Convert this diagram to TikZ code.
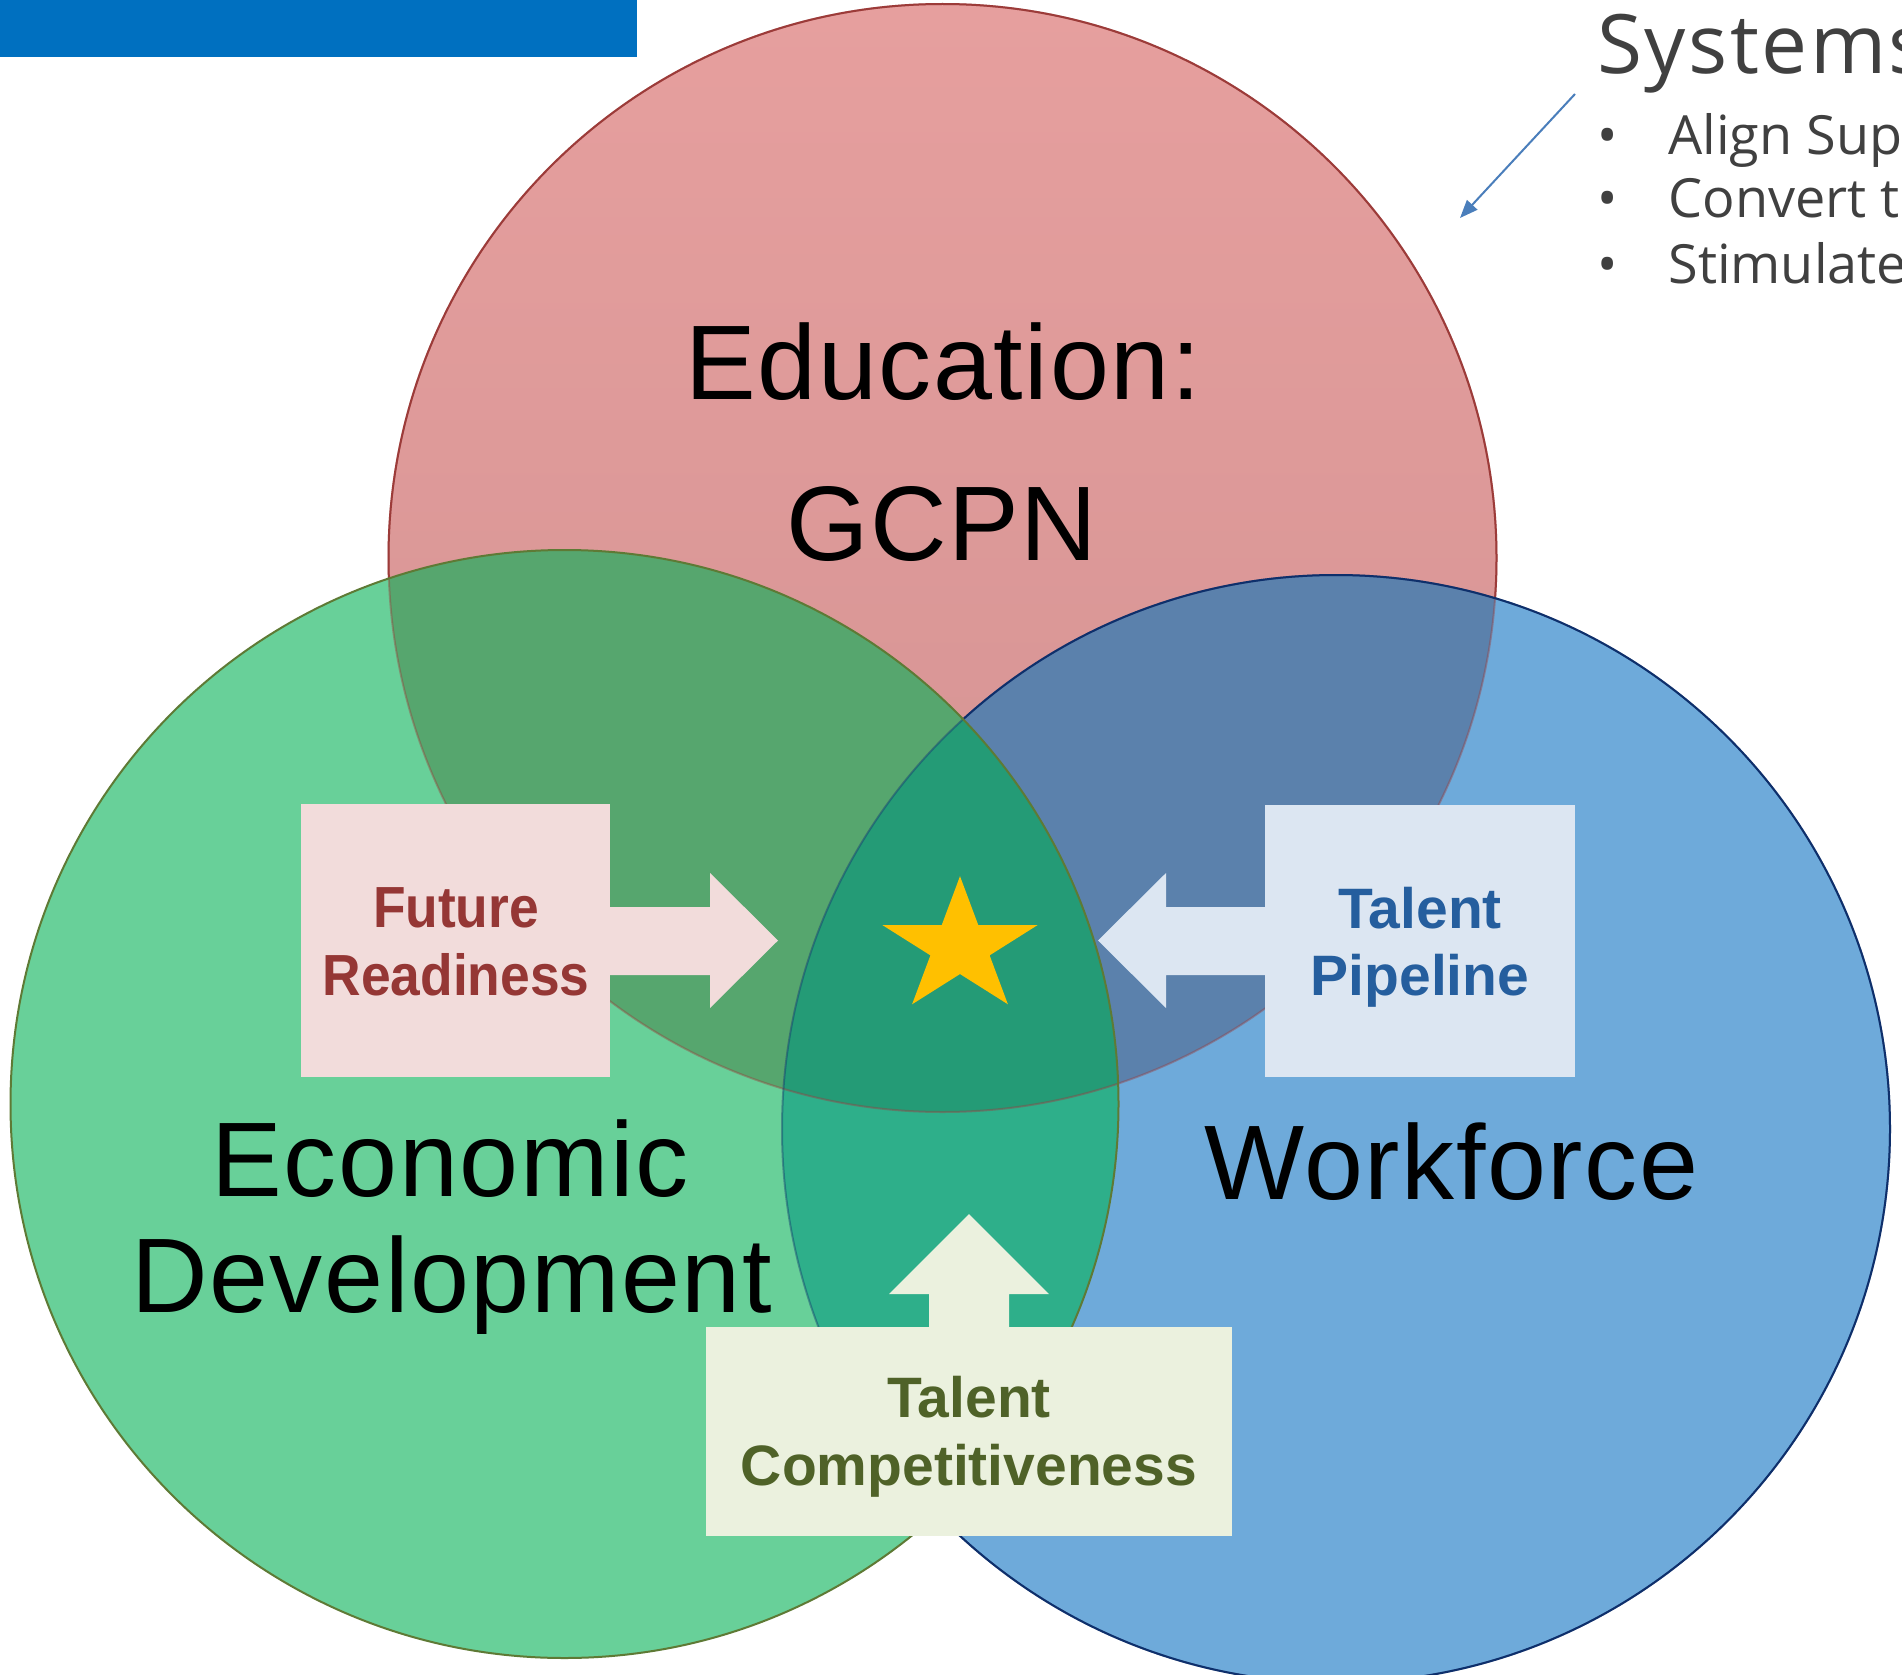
\documentclass[tikz,border=0pt]{standalone}
\usepackage{fontspec}
\setmainfont{Liberation Sans}
\newfontfamily\bigfont[LetterSpace=1.5]{Liberation Sans}
\newfontfamily\narrowfont[FakeStretch=0.92]{Liberation Sans}
\newfontfamily\sysfont[LetterSpace=3]{Open Sans}
\newfontfamily\bulfont{Open Sans}
\usetikzlibrary{arrows.meta}
\definecolor{barblue}{HTML}{0070C0}
\definecolor{redtop}{HTML}{E69F9E}
\definecolor{redbot}{HTML}{D29292}
\definecolor{greenonly}{HTML}{68D099}
\definecolor{blueonly}{HTML}{6EAADA}
\definecolor{rgcol}{HTML}{56A66E}
\definecolor{rbcol}{HTML}{5B81AC}
\definecolor{gbcol}{HTML}{2EAF8A}
\definecolor{rgbcol}{HTML}{249B76}
\definecolor{redline}{HTML}{9C3B39}
\definecolor{greenline}{HTML}{5E7A35}
\definecolor{blueline}{HTML}{0E2F6B}
\definecolor{frfill}{HTML}{F2DCDB}
\definecolor{frtext}{HTML}{953735}
\definecolor{tpfill}{HTML}{DCE6F2}
\definecolor{tptext}{HTML}{255E9E}
\definecolor{tcfill}{HTML}{EBF1DE}
\definecolor{tctext}{HTML}{4F6228}
\definecolor{starcol}{HTML}{FFC000}
\definecolor{sysgray}{HTML}{404040}
\definecolor{arrowblue}{HTML}{4A7EBB}
\begin{document}
\begin{tikzpicture}[x=0.5pt,y=-0.5pt,
  bigtxt/.style={font=\bigfont\fontsize{53}{58}\selectfont, anchor=base, inner sep=0pt, text=black},
  boldtxt/.style={font=\fontsize{28.5}{34}\selectfont\bfseries, anchor=base, inner sep=0pt},
  narrowtxt/.style={font=\narrowfont\fontsize{29}{34}\selectfont\bfseries, anchor=base, inner sep=0pt},
  labelbox/.style={draw=none, inner sep=0pt, outer sep=0pt},
  ring/.style={line width=1pt},
  dimring/.style={line width=1pt, opacity=0.4},
  systxt/.style={font=\sysfont\fontsize{41}{48}\selectfont, text=sysgray, anchor=base west, inner sep=0pt},
  bultxt/.style={font=\bulfont\fontsize{27}{32}\selectfont, text=sysgray, anchor=base west, inner sep=0pt}]
\useasboundingbox (0,0) rectangle (1902,1675);
\fill[white] (0,0) rectangle (1902,1675);

% top bar
\fill[barblue] (0,0) rectangle (637,57);

\coordinate (cR) at (942.5,558);
\coordinate (cG) at (564.5,1104);
\coordinate (cB) at (1336,1129);

% single-circle fills
\shade[top color=redtop, bottom color=redbot] (cR) circle[radius=277pt];
\fill[blueonly] (cB) circle[radius=277pt];
\fill[greenonly] (cG) circle[radius=277pt];
% overlaps
\begin{scope}
  \clip (cG) circle[radius=277pt];
  \fill[gbcol] (cB) circle[radius=277pt];
\end{scope}
\begin{scope}
  \clip (cR) circle[radius=277pt];
  \fill[rgcol] (cG) circle[radius=277pt];
  \fill[rbcol] (cB) circle[radius=277pt];
  \clip (cG) circle[radius=277pt];
  \fill[rgbcol] (cB) circle[radius=277pt];
\end{scope}

% outlines
\draw[dimring, draw=redline] (cR) circle[radius=277pt];
\begin{scope}[even odd rule]
  \clip (-20,-20) rectangle (1922,1695) (cG) circle[radius=277pt];
  \clip (-20,-20) rectangle (1922,1695) (cB) circle[radius=277pt];
  \draw[ring, draw=redline] (cR) circle[radius=277pt];
\end{scope}
\draw[dimring, draw=blueline] (cB) circle[radius=277pt];
\begin{scope}[even odd rule]
  \clip (-20,-20) rectangle (1922,1695) (cG) circle[radius=277pt];
  \draw[ring, draw=blueline] (cB) circle[radius=277pt];
\end{scope}
\draw[ring, draw=greenline] (cG) circle[radius=277pt];

% labelled boxes with block arrows
\node[labelbox, fill=frfill, minimum width=154.5pt, minimum height=136.5pt] (frbox) at (455.5,940.5) {};
\fill[frfill] (610,907) -- (710,907) -- (710,873) -- (778,940.5) -- (710,1008) -- (710,975) -- (610,975) -- cycle;
\node[labelbox, fill=tpfill, minimum width=155pt, minimum height=136pt] (tpbox) at (1420,941) {};
\fill[tpfill] (1265,907) -- (1166,907) -- (1166,873) -- (1098,940.5) -- (1166,1008) -- (1166,975) -- (1265,975) -- cycle;
\node[labelbox, fill=tcfill, minimum width=263pt, minimum height=104.5pt] (tcbox) at (969,1431.5) {};
\fill[tcfill] (929,1327) -- (929,1294) -- (889,1294) -- (969,1214) -- (1049,1294) -- (1009,1294) -- (1009,1327) -- cycle;

% star
\begin{scope}[shift={(960,947)}, xscale=81.5, yscale=70.8]
  \fill[starcol] (-90:1) -- (-54:0.382) -- (-18:1) -- (18:0.382) -- (54:1) -- (90:0.382)
    -- (126:1) -- (162:0.382) -- (198:1) -- (234:0.382) -- cycle;
\end{scope}

% big labels
\node[bigtxt] (edu1) at (943,399) {Education:};
\node[bigtxt] (edu2) at (942,560) {GCPN};
\node[bigtxt] (eco1) at (450,1196) {Economic};
\node[bigtxt] (eco2) at (451.5,1312) {Development};
\node[bigtxt] (wf) at (1451.5,1199) {Workforce};

% box labels
\node[narrowtxt, text=frtext] (fr1) at (456,927) {Future};
\node[narrowtxt, text=frtext] (fr2) at (456,995) {Readiness};
\node[boldtxt, text=tptext] (tp1) at (1420,928) {Talent};
\node[boldtxt, text=tptext] (tp2) at (1420,995) {Pipeline};
\node[boldtxt, text=tctext] (tc1) at (969,1417) {Talent};
\node[boldtxt, text=tctext] (tc2) at (969,1485) {Competitiveness};

% systems text (cut off at right edge, as in the reference)
\node[systxt] (sys) at (1597,74) {Systems};
\node[bultxt] (b1) at (1597,155) {\makebox[35.5pt][l]{•}Align Sup};
\node[bultxt] (b2) at (1597,218) {\makebox[35.5pt][l]{•}Convert to};
\node[bultxt] (b3) at (1597,283) {\makebox[35.5pt][l]{•}Stimulate};

% pointer arrow
\coordinate (pa) at (1575,94);
\coordinate (pb) at (1460,218);
\draw[arrowblue, line width=1pt, -{Triangle[length=9pt, width=7pt]}] (pa) -- (pb);
\end{tikzpicture}
\end{document}
